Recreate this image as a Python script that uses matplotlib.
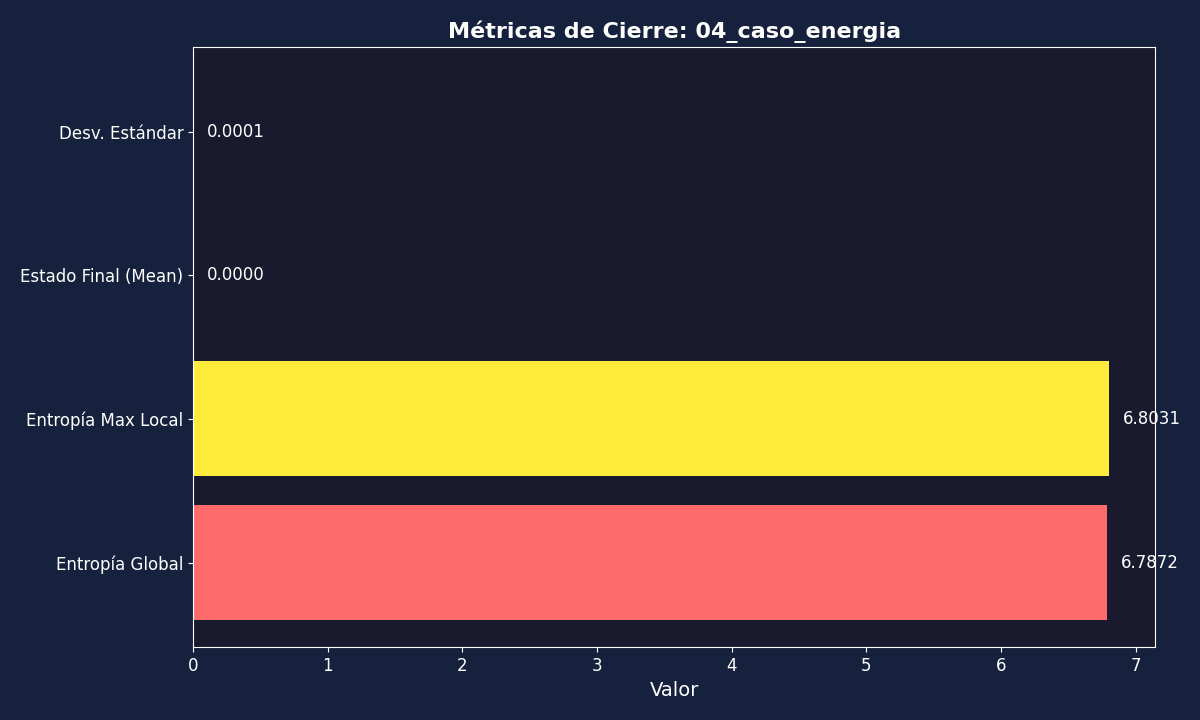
import matplotlib.pyplot as plt

metricas = ["Entropía Global", "Entropía Max Local", "Estado Final (Mean)", "Desv. Estándar"]
valores = [6.7872, 6.8031, 0.0000, 0.0001]
colores = ["#ff6b6b", "#ffeb3b", "#4ecdc4", "#45b7d1"]

fig = plt.figure(figsize=(12, 7.2), dpi=100, facecolor="#16213e")
ax = fig.add_axes([0.161, 0.101, 0.8015, 0.834])
ax.set_facecolor("#1a1a2e")

ax.barh(metricas, valores, color=colores, height=0.8)
for i, v in enumerate(valores):
    ax.text(v + 0.1, i, f"{v:.4f}", va="center", color="white", fontsize=12)

ax.set_title("Métricas de Cierre: 04_caso_energia", color="white", fontsize=16, fontweight="bold")
ax.set_xlabel("Valor", color="white", fontsize=14)
ax.tick_params(colors="white", labelsize=12)
for s in ax.spines.values():
    s.set_color("white")

fig.savefig("out.png", facecolor=fig.get_facecolor())
